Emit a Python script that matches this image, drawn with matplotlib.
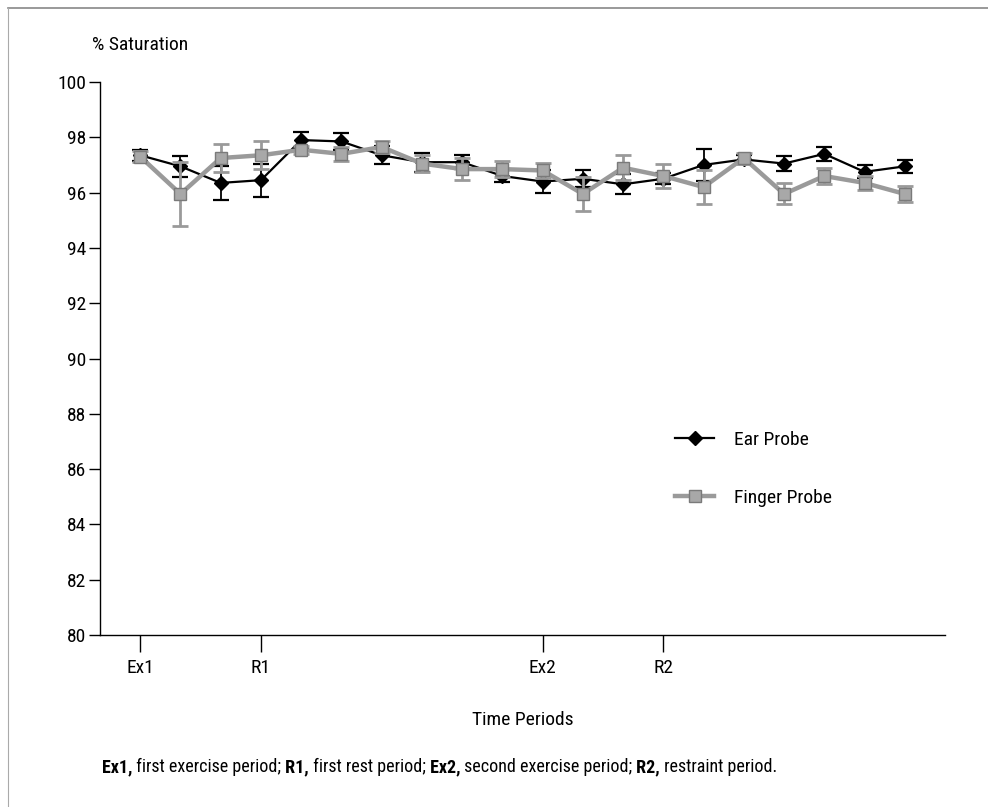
import matplotlib
matplotlib.use("Agg")
import matplotlib.pyplot as plt
from matplotlib import font_manager as fm
from matplotlib.lines import Line2D

# ---- font choice (condensed sans if available) ----
def pick_font(cands):
    for c in cands:
        try:
            fm.findfont(fm.FontProperties(family=c), fallback_to_default=False)
            return c
        except Exception:
            continue
    return "DejaVu Sans"

FONT = pick_font(["Liberation Sans Narrow", "Roboto Condensed", "DejaVu Sans Condensed", "Liberation Sans"])
plt.rcParams["font.family"] = [FONT, "DejaVu Sans"]

# ---- data ----
x_index = list(range(20))
tick_positions = [0, 3, 10, 13]
tick_labels = ["Ex1", "R1", "Ex2", "R2"]

ear = [97.35, 96.95, 96.35, 96.45, 97.9, 97.85, 97.35, 97.1, 97.1, 96.6,
       96.4, 96.5, 96.3, 96.5, 97.0, 97.2, 97.05, 97.4, 96.75, 96.95]
ear_err = [0.2, 0.38, 0.6, 0.6, 0.28, 0.3, 0.33, 0.35, 0.25, 0.2,
           0.42, 0.3, 0.36, 0.2, 0.57, 0.15, 0.27, 0.25, 0.24, 0.24]
finger = [97.3, 95.95, 97.25, 97.35, 97.55, 97.4, 97.65, 97.05, 96.85, 96.85,
          96.8, 95.95, 96.9, 96.6, 96.2, 97.25, 95.95, 96.6, 96.35, 95.95]
finger_err = [0.2, 1.15, 0.5, 0.5, 0.15, 0.25, 0.2, 0.3, 0.4, 0.3,
              0.28, 0.62, 0.45, 0.45, 0.6, 0.2, 0.38, 0.3, 0.25, 0.3]

y_ticks = list(range(80, 101, 2))

# ---- figure ----
fig = plt.figure(figsize=(9.88, 8.07), dpi=100)
ax = fig.add_axes([100/988, 172/807, 845/988, 553/807])

ax.errorbar(x_index, ear, yerr=ear_err, color="black", lw=1.6, marker="D",
            markersize=7.5, capsize=6, elinewidth=1.3, capthick=1.6,
            label="Ear Probe", zorder=3)
ax.errorbar(x_index, finger, yerr=finger_err, color="#9a9a9a", lw=3.2, marker="s",
            markersize=8.5, markerfacecolor="#a8a8a8", markeredgecolor="#7a7a7a",
            capsize=6, elinewidth=2.0, capthick=2.0,
            label="Finger Probe", zorder=4)

ax.set_xlim(-1, 20)
ax.set_ylim(80, 100)
ax.set_yticks(y_ticks)
ax.set_xticks(tick_positions)
ax.set_xticklabels(tick_labels)
ax.spines["top"].set_visible(False)
ax.spines["right"].set_visible(False)
for s in ("left", "bottom"):
    ax.spines[s].set_linewidth(1.0)
ax.tick_params(axis="y", direction="out", length=8, width=1, labelsize=14, pad=2)
ax.tick_params(axis="x", direction="out", length=12, width=1, labelsize=14, pad=5)

ax.text(-0.01, 1.067, "% Saturation", transform=ax.transAxes, fontsize=14,
        ha="left", va="center")
ax.set_xlabel("Time Periods", fontsize=14, labelpad=25)

# legend
h_ear = Line2D([], [], color="black", lw=1.6, marker="D", markersize=7.5)
h_fin = Line2D([], [], color="#9a9a9a", lw=3.2, marker="s", markersize=8.5,
               markerfacecolor="#a8a8a8", markeredgecolor="#7a7a7a")
ax.legend([h_ear, h_fin], ["Ear Probe", "Finger Probe"], frameon=False,
          loc="upper left", bbox_to_anchor=(0.66, 0.40), fontsize=14,
          handlelength=2.0, handletextpad=1.0, labelspacing=2.05)

# caption with bold parts
pieces = [("Ex1,", "bold"), (" first exercise period;", "normal"),
          (" R1,", "bold"), (" first rest period;", "normal"),
          (" Ex2,", "bold"), (" second exercise period;", "normal"),
          (" R2,", "bold"), (" restraint period.", "normal")]
anchor = fig.text(102/988, 1 - 776/807, pieces[0][0], fontsize=13,
                  fontweight=pieces[0][1], va="bottom", ha="left")
for txt, w in pieces[1:]:
    anchor = ax.annotate(txt, xy=(1, 0), xycoords=anchor, va="bottom", ha="left",
                         fontsize=13, fontweight=w, annotation_clip=False)

# page frame lines
fig.add_artist(Line2D([8/988, 1], [1 - 8/807, 1 - 8/807], color="#888888", lw=1.2,
                      transform=fig.transFigure))
fig.add_artist(Line2D([8/988, 8/988], [0, 1 - 8/807], color="#aaaaaa", lw=0.8,
                      transform=fig.transFigure))

fig.savefig("out.png", dpi=100)
